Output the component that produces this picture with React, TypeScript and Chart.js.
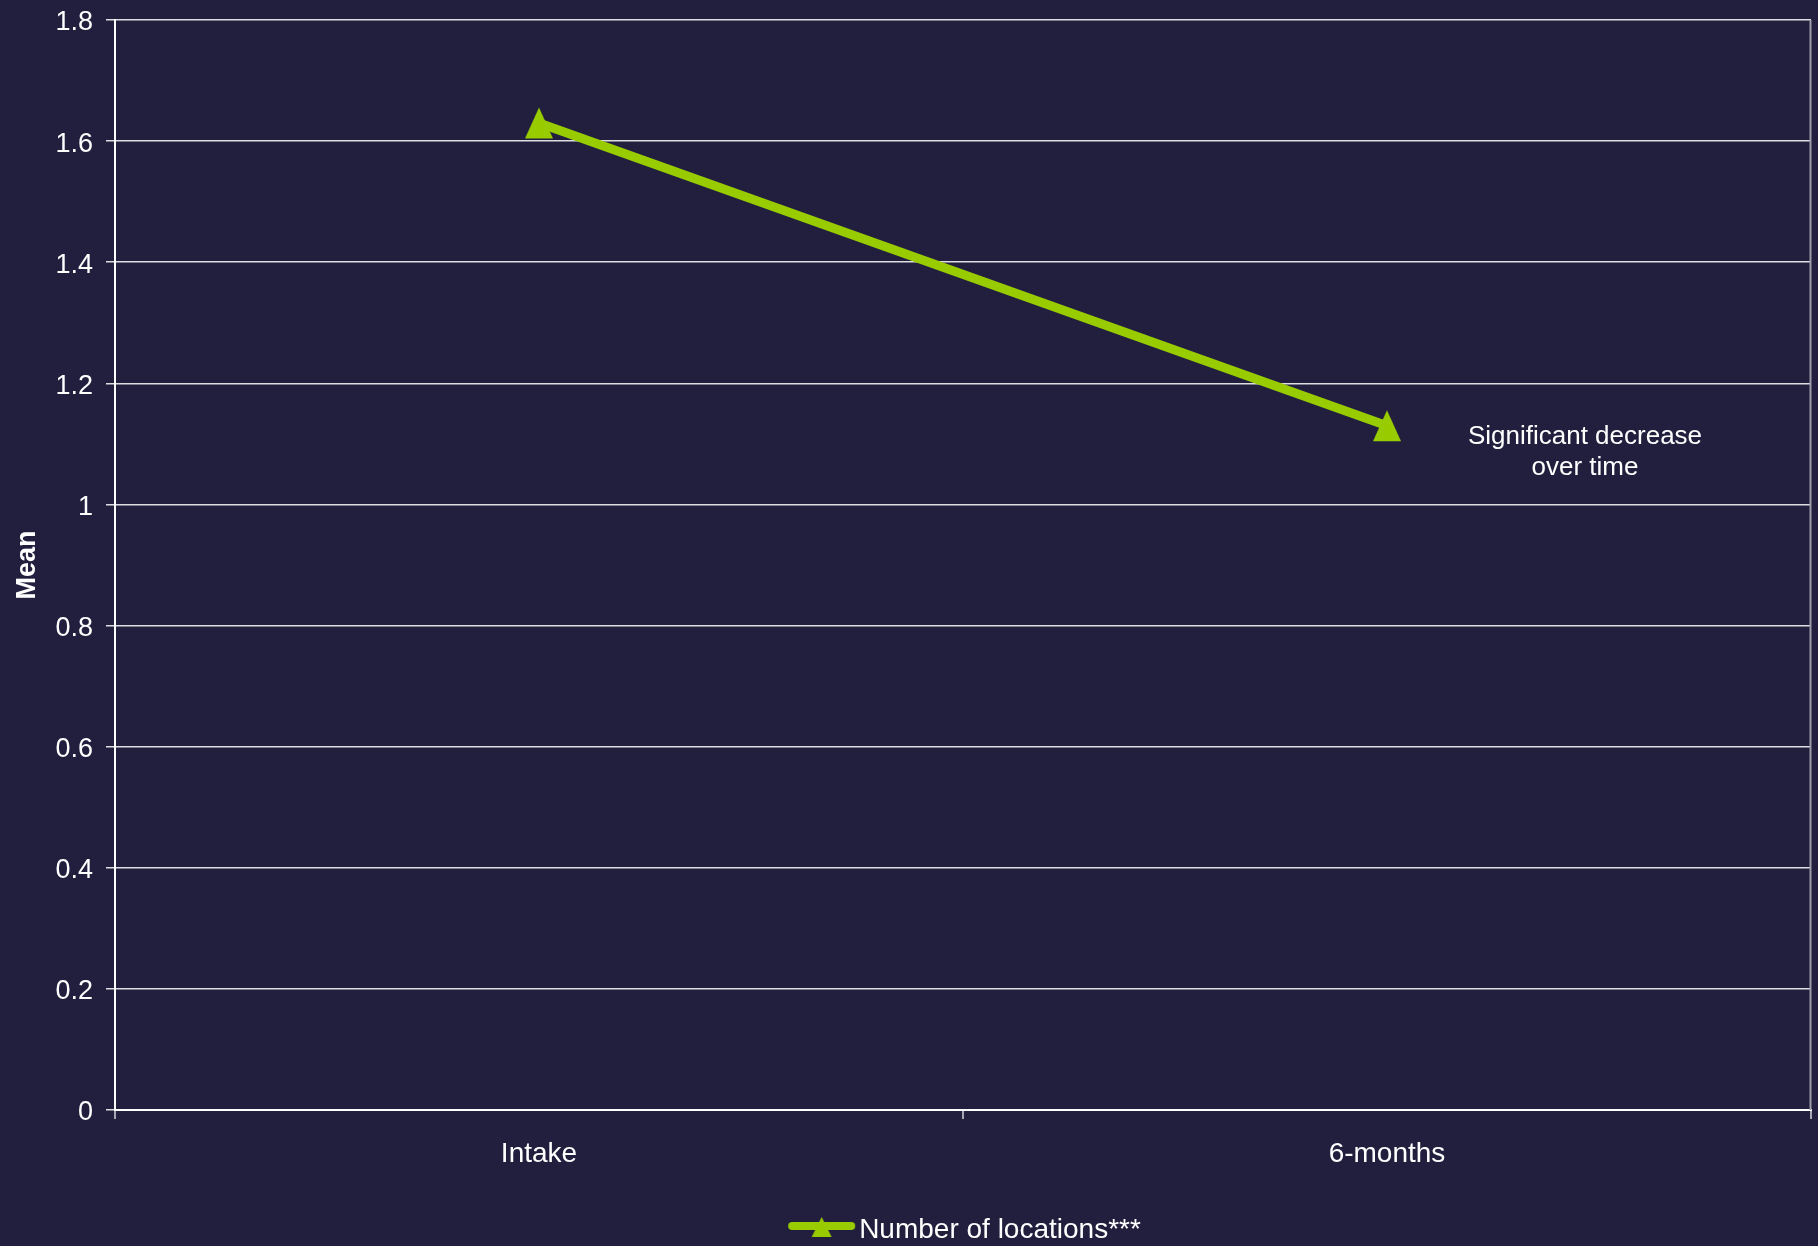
import React, { useEffect, useRef } from "react";
import { Chart, registerables } from "chart.js";

Chart.register(...registerables);

const categories = ["Intake", "6-months"];
const seriesLabel = "Number of locations***";
const meanValues = [1.63, 1.13];
const yTickLabels = ["0", "0.2", "0.4", "0.6", "0.8", "1", "1.2", "1.4", "1.6", "1.8"];
const yAxisTitle = "Mean";
const annotationLines = ["Significant decrease", "over time"];

const BG = "#211F3D";
const LIME = "#99CC00";
const FONT = "'Liberation Sans', Arial, sans-serif";

function makeMarker(): HTMLCanvasElement {
  const c = document.createElement("canvas");
  c.width = 30;
  c.height = 33;
  const ctx = c.getContext("2d")!;
  ctx.fillStyle = LIME;
  ctx.beginPath();
  ctx.moveTo(15, 1);
  ctx.lineTo(29, 32);
  ctx.lineTo(1, 32);
  ctx.closePath();
  ctx.fill();
  return c;
}

function makeLegendMarker(): HTMLCanvasElement {
  const c = document.createElement("canvas");
  c.width = 82;
  c.height = 28;
  const ctx = c.getContext("2d")!;
  ctx.strokeStyle = LIME;
  ctx.lineWidth = 8;
  ctx.lineCap = "round";
  ctx.beginPath();
  ctx.moveTo(18, 10);
  ctx.lineTo(77, 10);
  ctx.stroke();
  ctx.fillStyle = LIME;
  ctx.beginPath();
  ctx.moveTo(47.5, 1);
  ctx.lineTo(57.5, 21);
  ctx.lineTo(37.5, 21);
  ctx.closePath();
  ctx.fill();
  return c;
}

const extrasPlugin = {
  id: "extras",
  beforeDraw(chart: any) {
    const { ctx, width, height } = chart;
    ctx.save();
    ctx.fillStyle = BG;
    ctx.fillRect(0, 0, width, height);
    ctx.restore();
  },
  afterDatasetsDraw(chart: any) {
    const { ctx, chartArea } = chart;
    ctx.save();
    // right border of plot area
    ctx.strokeStyle = "#9c9cab";
    ctx.lineWidth = 2;
    ctx.beginPath();
    ctx.moveTo(chartArea.right - 0.5, chartArea.top);
    ctx.lineTo(chartArea.right - 0.5, chartArea.bottom);
    ctx.stroke();
    // annotation, anchored to the 6-months point
    const xs = chart.scales.x;
    const ys = chart.scales.y;
    const px = xs.getPixelForValue(1);
    const py = ys.getPixelForValue(meanValues[1]);
    ctx.fillStyle = "#ffffff";
    ctx.font = `26px ${FONT}`;
    ctx.textAlign = "center";
    ctx.textBaseline = "alphabetic";
    annotationLines.forEach((t, i) => {
      ctx.fillText(t, px + 198, py + 18 + i * 31);
    });
    ctx.restore();
  },
};

export default function App() {
  const ref = useRef<HTMLCanvasElement>(null);

  useEffect(() => {
    document.body.style.margin = "0";
    const marker = makeMarker();
    const legendMarker = makeLegendMarker();
    const chart = new Chart(ref.current!, {
      type: "line",
      data: {
        labels: categories,
        datasets: [
          {
            label: seriesLabel,
            data: meanValues,
            borderColor: LIME,
            backgroundColor: LIME,
            borderWidth: 9,
            pointStyle: marker as any,
            pointRadius: 16,
            tension: 0,
          },
        ],
      },
      options: {
        responsive: false,
        animation: false,
        events: [],
        layout: { autoPadding: false, padding: { top: 20, right: 7, left: 0, bottom: -8 } },
        plugins: {
          tooltip: { enabled: false },
          legend: {
            position: "bottom",
            fullSize: false,
            labels: {
              usePointStyle: true,
              pointStyleWidth: 60,
              padding: 4,
              color: "#ffffff",
              font: { family: FONT, size: 28 },
              generateLabels: (ch: any) => {
                const items = Chart.defaults.plugins.legend.labels.generateLabels(ch);
                return items.map((it: any) => ({ ...it, pointStyle: legendMarker }));
              },
            },
          },
        },
        scales: {
          x: {
            type: "category",
            offset: true,
            afterFit: (s: any) => {
              s.height = 102;
              s.paddingLeft = 0;
              s.paddingRight = 0;
              s.paddingTop = 0;
              s.paddingBottom = 0;
            },
            grid: {
              offset: true,
              drawOnChartArea: false,
              drawTicks: true,
              tickLength: 9,
              color: "#a6a6b4",
              lineWidth: 2,
            },
            border: { display: true, color: "#ffffff", width: 2 },
            ticks: {
              color: "#ffffff",
              padding: 18,
              font: { family: FONT, size: 28 },
            },
          },
          y: {
            min: 0,
            max: 1.8,
            afterFit: (s: any) => {
              s.width = 115;
              s.paddingLeft = 0;
              s.paddingRight = 0;
              s.paddingTop = 0;
              s.paddingBottom = 0;
            },
            ticks: {
              stepSize: 0.2,
              color: "#ffffff",
              padding: 13,
              labelOffset: 3,
              font: { family: FONT, size: 27 },
              callback: (v: any) => {
                const i = Math.round(Number(v) / 0.2);
                return yTickLabels[i] ?? "";
              },
            },
            grid: {
              color: "rgba(255,255,255,0.85)",
              lineWidth: 1.5,
              tickLength: 9,
            },
            border: { display: true, color: "#ffffff", width: 2 },
            title: {
              display: true,
              text: yAxisTitle,
              color: "#ffffff",
              font: { family: FONT, size: 27, weight: "bold" },
              padding: { top: 11, bottom: 0 },
            },
          },
        },
      },
      plugins: [extrasPlugin],
    });
    return () => chart.destroy();
  }, []);

  return (
    <div style={{ position: "fixed", left: 0, top: 0, width: 1818, height: 1246, background: BG }}>
      <canvas ref={ref} width={1818} height={1246} style={{ display: "block" }} />
    </div>
  );
}
